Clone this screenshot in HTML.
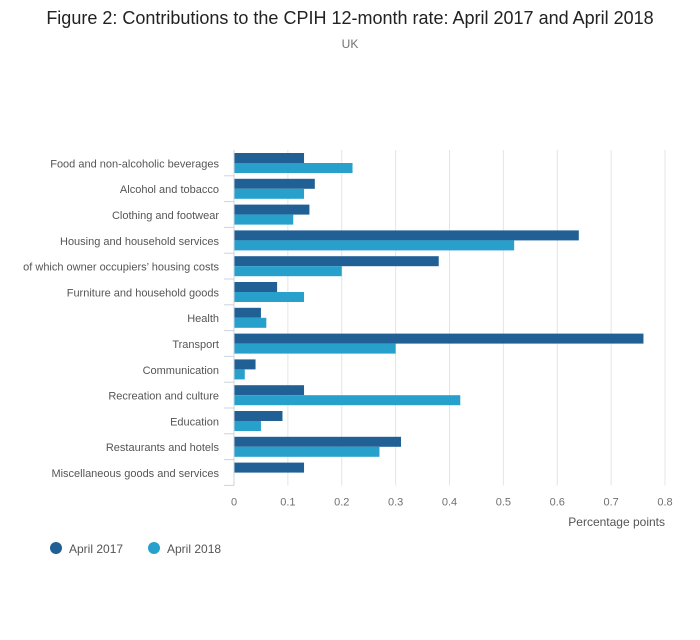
<!DOCTYPE html>
<html><head><meta charset="utf-8"><style>
body{margin:0;background:#fff;font-family:"Liberation Sans",sans-serif;}
</style></head><body>
<svg width="700" height="635" xmlns="http://www.w3.org/2000/svg">
<text x="350" y="24" text-anchor="middle" font-size="18" fill="#222">Figure 2: Contributions to the CPIH 12-month rate: April 2017 and April 2018</text>
<text x="350" y="48" text-anchor="middle" font-size="12" fill="#707070">UK</text>
<g id="grid"></g><g id="bars"></g><g id="axes"></g>
<text x="665" y="526" text-anchor="end" font-size="12" fill="#555">Percentage points</text>
<g>
<circle cx="56" cy="548" r="6" fill="#206095"/>
<text x="69" y="553" font-size="12" fill="#555">April 2017</text>
<circle cx="154" cy="548" r="6" fill="#27a0cc"/>
<text x="167" y="553" font-size="12" fill="#555">April 2018</text>
</g>
</svg>
<script>
const categories=["Food and non-alcoholic beverages","Alcohol and tobacco","Clothing and footwear","Housing and household services","of which owner occupiers’ housing costs","Furniture and household goods","Health","Transport","Communication","Recreation and culture","Education","Restaurants and hotels","Miscellaneous goods and services"];
const april2017=[0.13,0.15,0.14,0.64,0.38,0.08,0.05,0.76,0.04,0.13,0.09,0.31,0.13];
const april2018=[0.22,0.13,0.11,0.52,0.20,0.13,0.06,0.30,0.02,0.42,0.05,0.27,0];
const ticks=[0,0.1,0.2,0.3,0.4,0.5,0.6,0.7,0.8];
const NS="http://www.w3.org/2000/svg";
const x0=234,x1=665,yTop=150,band=25.8;
const xs=v=>x0+v/0.8*(x1-x0);
const ys=i=>yTop+i*band;
function mk(t,a,p){const e=document.createElementNS(NS,t);for(const k in a)e.setAttribute(k,a[k]);p.appendChild(e);return e;}
const grid=document.getElementById('grid'),bars=document.getElementById('bars'),axes=document.getElementById('axes');
const bottom=ys(categories.length);
ticks.forEach(t=>{
 if(t>0){const l=mk('line',{x1:xs(t),x2:xs(t),y1:yTop,y2:bottom,stroke:'#e4e4e4'},grid);
 
 }
 const tx=mk('text',{x:xs(t),y:bottom+20,'text-anchor':'middle','font-size':11,fill:'#707070'},axes);
 tx.textContent=t===0?'0':t.toString();
 
 
});
const ax=mk('line',{x1:x0,x2:x0,y1:yTop,y2:bottom,stroke:'#ccd4dc'},axes);


categories.forEach((c,i)=>{
 const y=ys(i);
 const tk=mk('line',{x1:x0-10,x2:x0,y1:y+band,y2:y+band,stroke:'#ccd4dc'},axes);
 
 
 const lb=mk('text',{x:219,y:y+band/2+4.5,'text-anchor':'end','font-size':11,fill:'#555'},axes);
 lb.textContent=c;
 
 
 const b1=mk('rect',{x:x0,y:y+3,width:xs(april2017[i])-x0,height:10,fill:'#206095'},bars);
 
 
 const b2=mk('rect',{x:x0,y:y+13,width:xs(april2018[i])-x0,height:10,fill:'#27a0cc'},bars);
 
 
});
</script>
</body></html>
